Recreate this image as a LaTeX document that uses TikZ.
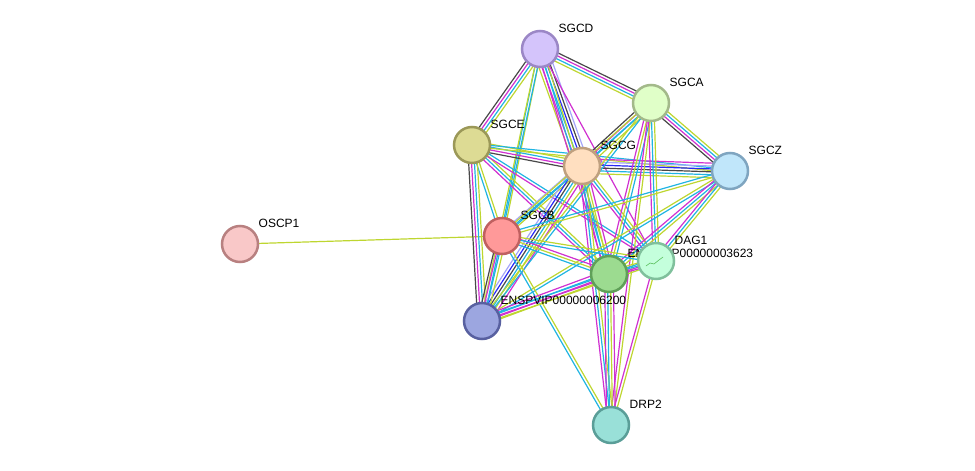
\documentclass[tikz,border=0pt]{standalone}
\usepackage{fontspec}
\setmainfont{Liberation Sans}
\usetikzlibrary{calc,backgrounds}

% evidence channels
\definecolor{tm}{RGB}{190,214,48}
\definecolor{db}{RGB}{32,180,226}
\definecolor{ex}{RGB}{208,48,208}
\definecolor{co}{RGB}{72,72,72}
\definecolor{oc}{RGB}{40,40,245}
\definecolor{hm}{RGB}{165,165,250}

% node fills and rims
\definecolor{fD}{RGB}{212,196,251}\definecolor{sD}{RGB}{155,135,198}
\definecolor{fA}{RGB}{224,255,200}\definecolor{sA}{RGB}{163,185,138}
\definecolor{fE}{RGB}{221,219,148}\definecolor{sE}{RGB}{155,152,88}
\definecolor{fG}{RGB}{255,223,192}\definecolor{sG}{RGB}{191,160,127}
\definecolor{fZ}{RGB}{192,230,250}\definecolor{sZ}{RGB}{127,165,192}
\definecolor{fB}{RGB}{255,153,153}\definecolor{sB}{RGB}{192,96,96}
\definecolor{fO}{RGB}{249,200,200}\definecolor{sO}{RGB}{184,128,128}
\definecolor{fDG}{RGB}{196,255,220}\definecolor{sDG}{RGB}{128,192,156}
\definecolor{fP}{RGB}{156,219,144}\definecolor{sP}{RGB}{95,160,88}
\definecolor{fQ}{RGB}{156,166,224}\definecolor{sQ}{RGB}{88,96,160}
\definecolor{fR}{RGB}{153,224,216}\definecolor{sR}{RGB}{90,158,152}

% one protein: name, position, colour key, label
\newcommand{\prot}[4]{%
  \node[prot,fill=f#3,draw=s#3] (#1) at (#2) {};
  \node[plabel] (#1-l) at ($(#1)+(18.5,-17)$) {#4};}

% one link: parallel lines, one per channel
\newcommand{\link}[3]{%
  \foreach \c [count=\n] in {#3} {\xdef\nch{\n}}
  \foreach \c [count=\i] in {#3} {
    \pgfmathsetmacro\off{(\i-(\nch+1)/2)*2.9}
    \draw[chan,color=\c] ($(#1.center)!\off pt!90:(#2.center)$) -- ($(#2.center)!\off pt!-90:(#1.center)$);
  }}

\begin{document}
\begin{tikzpicture}[x=1pt,y=-1pt,line cap=round,
  prot/.style={circle,minimum size=36pt,inner sep=0pt,line width=2.5pt},
  plabel/.style={anchor=base west,inner sep=0pt,font=\fontsize{12}{14}\selectfont},
  chan/.style={line width=1.2pt}]
  \useasboundingbox (0,0) rectangle (975,471);

  % --- proteins ---
  \prot{oscp}{240,244}{O}{OSCP1}
  \prot{sgcd}{540,49}{D}{SGCD}
  \prot{sgca}{651,103}{A}{SGCA}
  \prot{sgce}{472,145}{E}{SGCE}
  \prot{sgcz}{730,171}{Z}{SGCZ}
  \prot{sgcg}{582,166}{G}{SGCG}
  \prot{sgcb}{502,236}{B}{SGCB}
  \prot{p3623}{609,274}{P}{ENSPVIP00000003623}
  \prot{dag}{656,261}{DG}{DAG1}
  \prot{p6200}{482,321}{Q}{ENSPVIP00000006200}
  \prot{drp}{611,425}{R}{DRP2}
  % tiny structure inside DAG1
  \draw[green!60!black!70,line width=0.5pt] ($(dag)+(-10,5)$) -- ($(dag)+(-6,2)$) -- ($(dag)+(-2,3)$) -- ($(dag)+(3,-1)$) -- ($(dag)+(7,-4)$);

  % --- links ---
  \begin{scope}[on background layer]
    \link{oscp}{sgcb}{tm}
    \link{sgcd}{sgce}{co,ex,db,tm}
    \link{sgcd}{sgca}{tm,db,ex,co}
    \link{sgcd}{sgcg}{tm,ex,db,oc,co,hm}
    \link{sgcd}{sgcb}{db,tm}
    \link{sgcd}{p6200}{tm,db}
    \link{sgcd}{p3623}{ex,db,tm}
    \link{sgcd}{dag}{ex}
    \link{sgce}{sgcg}{co,ex,db,tm}
    \link{sgce}{sgcz}{tm,db}
    \link{sgce}{sgcb}{db,tm}
    \link{sgce}{p6200}{co,ex,db,tm}
    \link{sgce}{p3623}{ex,db,tm}
    \link{sgce}{dag}{ex,db}
    \link{sgcg}{sgca}{tm,db,ex,co}
    \link{sgcg}{sgcz}{tm,db,co,oc,hm,ex}
    \link{sgcg}{sgcb}{hm,db,tm}
    \link{sgcg}{p6200}{hm,oc,co,db,tm,ex}
    \link{sgcg}{p3623}{ex,db,tm,ex}
    \link{sgcg}{dag}{ex,db,tm}
    \link{sgcg}{drp}{ex,db,tm}
    \link{sgca}{sgcz}{co,ex,db,tm}
    \link{sgca}{sgcb}{tm,db}
    \link{sgca}{p6200}{tm,db}
    \link{sgca}{p3623}{ex,tm,db}
    \link{sgca}{dag}{ex,db,tm}
    \link{sgca}{drp}{ex,tm}
    \link{sgcz}{sgcb}{db,tm}
    \link{sgcz}{p6200}{tm,db}
    \link{sgcz}{p3623}{ex,db,tm}
    \link{sgcz}{dag}{ex,db,tm}
    \link{sgcb}{p6200}{co,ex,db,tm}
    \link{sgcb}{p3623}{db,tm,ex}
    \link{sgcb}{dag}{db,tm}
    \link{sgcb}{drp}{db,tm}
    \link{p6200}{p3623}{tm,ex,db,ex}
    \link{p6200}{dag}{tm,ex,db}
    \link{p3623}{dag}{ex,db,tm}
    \link{p3623}{drp}{ex,db,tm,ex}
    \link{dag}{drp}{ex,tm}
  \end{scope}
\end{tikzpicture}
\end{document}
